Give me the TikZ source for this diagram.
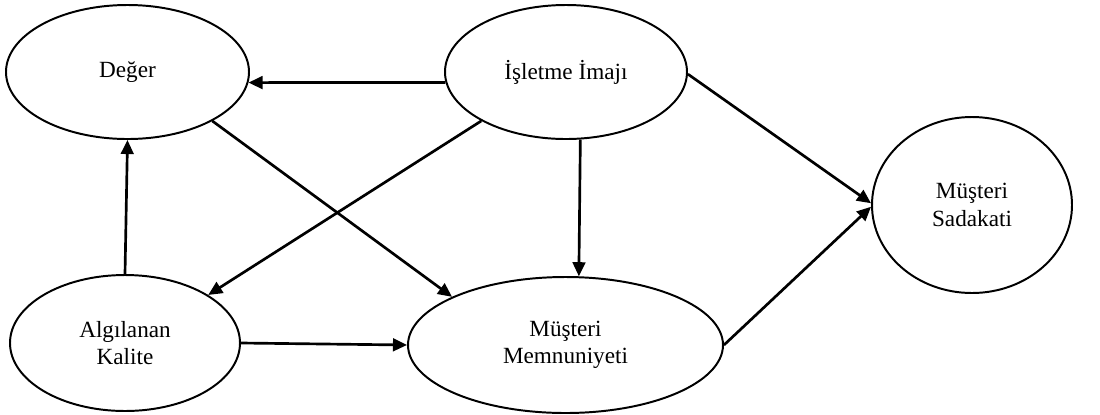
\documentclass[tikz,border=0pt]{standalone}
\usepackage{fontspec}
\setmainfont{Liberation Serif}
\usepackage{tikz}
\usetikzlibrary{shapes.geometric,arrows.meta}

\begin{document}
\begin{tikzpicture}[
  oval/.style={ellipse,draw,line width=1.4pt,inner sep=0pt,align=center,
    font=\fontsize{16.5pt}{19.5pt}\selectfont},
  arr/.style={line width=1.9pt,-{Triangle[length=10pt,width=9pt]}}]
\useasboundingbox (0,0) rectangle (27.5,-10.35);

\node[oval,minimum width=6.075cm,minimum height=3.35cm] (deger) at (3.1875,-1.8) {Değer};
\node[oval,minimum width=6.05cm,minimum height=3.35cm] (imaj) at (14.15,-1.8) {İşletme İmajı};
\node[oval,minimum width=5cm,minimum height=4.4cm] (sadakat) at (24.3,-5.125) {Müşteri\\Sadakati};
\node[oval,minimum width=5.75cm,minimum height=3.4cm] (kalite) at (3.125,-8.575) {Algılanan\\Kalite};
\node[oval,minimum width=7.875cm,minimum height=3.4cm] (memnun) at (14.1375,-8.625) {Müşteri\\Memnuniyeti};

\draw[arr] (imaj.185) -- (deger.-5);
\draw[arr] (deger.-30) -- (memnun.157);
\draw[arr] (imaj.210) -- (kalite.30);
\draw[arr] (kalite.north) -- (deger.south);
\draw[arr] (kalite.east) -- (memnun.west);
\draw[arr] (imaj.-78) -- (memnun.79);
\draw[arr] (imaj.-1) -- (sadakat.179);
\draw[arr] (memnun.east) -- (sadakat.181);
\end{tikzpicture}
\end{document}
